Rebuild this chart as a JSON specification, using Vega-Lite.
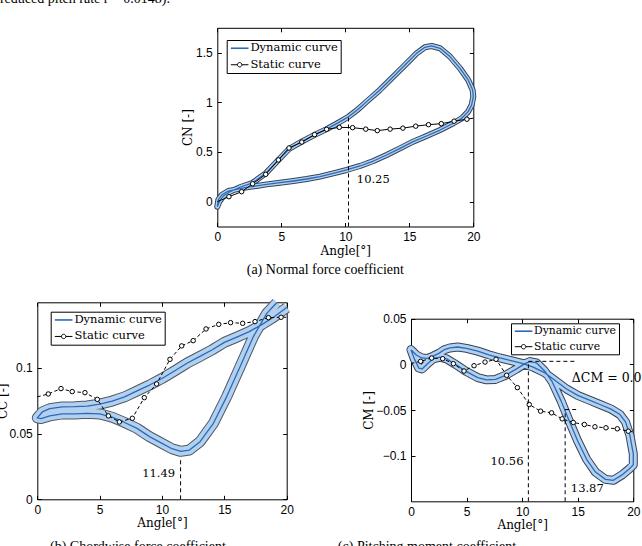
{
  "$schema": "https://vega.github.io/schema/vega-lite/v6.json",
  "width": 642,
  "height": 546,
  "autosize": {"type": "none"},
  "padding": 0,
  "background": "white",
  "config": {
    "view": {"stroke": null},
    "axis": {"grid": false, "domainColor": "black", "domainWidth": 1, "tickColor": "black", "tickWidth": 1, "tickSize": -4, "labelPadding": 9, "labelColor": "black", "labelFont": "Liberation Sans", "labelFontSize": 12, "labelFlush": false, "labelOverlap": false, "titleColor": "black", "titleFont": "DejaVu Serif", "titleFontSize": 12, "titleFontWeight": "normal"},
    "legend": {"labelFont": "DejaVu Serif", "labelFontSize": 11.5, "labelColor": "black", "symbolType": "stroke", "symbolSize": 121, "symbolStrokeWidth": 1.5, "symbolOffset": 4.7, "labelOffset": 5, "padding": 2.5, "rowPadding": 3.5, "strokeColor": "black", "fillColor": "white", "symbolDash": []},
    "text": {"color": "black"},
    "rule": {"color": "black"}
  },
  "datasets": {
    "dynA": [
      {"angle":0,"value":-0.05},{"angle":0.16,"value":0.0},{"angle":0.47,"value":0.057},{"angle":0.99,"value":0.10},{"angle":1.77,"value":0.145},{"angle":2.76,"value":0.19},{"angle":3.78,"value":0.285},{"angle":4.77,"value":0.42},{"angle":5.6,"value":0.53},{"angle":6.6,"value":0.605},{"angle":7.6,"value":0.672},{"angle":8.54,"value":0.73},{"angle":9.53,"value":0.80},{"angle":10.25,"value":0.855},{"angle":11.0,"value":0.93},{"angle":11.67,"value":1.007},{"angle":12.7,"value":1.124},{"angle":13.75,"value":1.258},{"angle":14.8,"value":1.393},{"angle":15.57,"value":1.493},{"angle":16.22,"value":1.554},{"angle":16.74,"value":1.567},{"angle":17.4,"value":1.544},{"angle":18.18,"value":1.46},{"angle":18.96,"value":1.342},{"angle":19.6,"value":1.225},{"angle":19.95,"value":1.124},{"angle":20,"value":1.057},{"angle":19.87,"value":0.973},{"angle":19.6,"value":0.906},{"angle":19.1,"value":0.839},{"angle":18.44,"value":0.789},{"angle":17.4,"value":0.721},{"angle":16.35,"value":0.661},{"angle":15.3,"value":0.604},{"angle":14.27,"value":0.537},{"angle":13.23,"value":0.47},{"angle":12.19,"value":0.409},{"angle":11.15,"value":0.359},{"angle":10.1,"value":0.319},{"angle":9.06,"value":0.285},{"angle":8.02,"value":0.252},{"angle":6.98,"value":0.228},{"angle":5.94,"value":0.208},{"angle":4.9,"value":0.191},{"angle":3.85,"value":0.174},{"angle":3.07,"value":0.158},{"angle":2.29,"value":0.144},{"angle":1.51,"value":0.124},{"angle":0.86,"value":0.107},{"angle":0.34,"value":0.067},{"angle":0.08,"value":0.017},{"angle":0,"value":-0.05}
    ],
    "statA": [
      {"angle":0,"value":0},{"angle":0.91,"value":0.05},{"angle":1.9,"value":0.10},{"angle":2.76,"value":0.18},{"angle":3.78,"value":0.275},{"angle":4.77,"value":0.42},{"angle":5.6,"value":0.54},{"angle":6.6,"value":0.60},{"angle":7.6,"value":0.675},{"angle":8.54,"value":0.728},{"angle":9.53,"value":0.748},{"angle":10.57,"value":0.745},{"angle":11.6,"value":0.73},{"angle":12.5,"value":0.715},{"angle":13.5,"value":0.73},{"angle":14.5,"value":0.74},{"angle":15.5,"value":0.76},{"angle":16.5,"value":0.775},{"angle":17.5,"value":0.785},{"angle":18.5,"value":0.81},{"angle":19.5,"value":0.83},{"angle":20,"value":0.84}
    ],
    "dynB": [
      {"angle":20,"value":0.146},{"angle":19,"value":0.139},{"angle":18,"value":0.133},{"angle":17,"value":0.1277},{"angle":16,"value":0.1235},{"angle":15,"value":0.1195},{"angle":14,"value":0.1137},{"angle":13,"value":0.1086},{"angle":12,"value":0.1036},{"angle":11,"value":0.0977},{"angle":10,"value":0.092},{"angle":9,"value":0.087},{"angle":8,"value":0.0825},{"angle":7,"value":0.078},{"angle":6,"value":0.0748},{"angle":5,"value":0.0725},{"angle":4,"value":0.071},{"angle":3,"value":0.0705},{"angle":2,"value":0.0703},{"angle":1,"value":0.069},{"angle":0.4,"value":0.0665},{"angle":0,"value":0.062},{"angle":0.3,"value":0.0615},{"angle":1,"value":0.0635},{"angle":2,"value":0.065},{"angle":3,"value":0.065},{"angle":4,"value":0.0655},{"angle":5,"value":0.065},{"angle":6,"value":0.0625},{"angle":7,"value":0.0585},{"angle":8,"value":0.054},{"angle":9,"value":0.0477},{"angle":10,"value":0.0426},{"angle":10.8,"value":0.0385},{"angle":11.5,"value":0.0365},{"angle":12.2,"value":0.0375},{"angle":13.05,"value":0.0439},{"angle":14.12,"value":0.0579},{"angle":15.19,"value":0.0782},{"angle":16.26,"value":0.101},{"angle":17.33,"value":0.1239},{"angle":18.4,"value":0.1416},{"angle":19.2,"value":0.1497}
    ],
    "statB": [
      {"angle":0,"value":0.078},{"angle":0.88,"value":0.0802},{"angle":1.9,"value":0.0843},{"angle":2.8,"value":0.082},{"angle":3.82,"value":0.0812},{"angle":4.81,"value":0.0761},{"angle":5.7,"value":0.0635},{"angle":6.58,"value":0.0589},{"angle":7.62,"value":0.0617},{"angle":8.58,"value":0.0774},{"angle":9.57,"value":0.0878},{"angle":10.64,"value":0.1066},{"angle":11.58,"value":0.1168},{"angle":12.5,"value":0.1208},{"angle":13.53,"value":0.1297},{"angle":14.55,"value":0.1332},{"angle":15.5,"value":0.1345},{"angle":16.47,"value":0.134},{"angle":17.46,"value":0.1353},{"angle":18.53,"value":0.1383},{"angle":19.55,"value":0.1386},{"angle":20,"value":0.1386}
    ],
    "dynC": [
      {"angle":0,"value":0.016},{"angle":0.3,"value":0.006},{"angle":0.7,"value":-0.004},{"angle":1.0,"value":-0.005},{"angle":1.5,"value":0.001},{"angle":2.0,"value":0.006},{"angle":2.6,"value":0.008},{"angle":3.2,"value":0.006},{"angle":4,"value":0.0},{"angle":5,"value":-0.008},{"angle":6,"value":-0.0145},{"angle":6.8,"value":-0.017},{"angle":7.6,"value":-0.0165},{"angle":8.5,"value":-0.012},{"angle":9.5,"value":-0.005},{"angle":10.2,"value":0.0005},{"angle":10.7,"value":0.003},{"angle":11.3,"value":0.0015},{"angle":12,"value":-0.007},{"angle":12.7,"value":-0.019},{"angle":13.5,"value":-0.04},{"angle":14.2,"value":-0.061},{"angle":15,"value":-0.084},{"angle":15.8,"value":-0.104},{"angle":16.6,"value":-0.118},{"angle":17.5,"value":-0.126},{"angle":18.2,"value":-0.127},{"angle":19,"value":-0.121},{"angle":19.6,"value":-0.115},{"angle":20,"value":-0.11},
      {"angle":20,"value":-0.098},{"angle":19.7,"value":-0.078},{"angle":19.3,"value":-0.063},{"angle":18.8,"value":-0.055},{"angle":18,"value":-0.049},{"angle":17,"value":-0.044},{"angle":16,"value":-0.039},{"angle":15,"value":-0.034},{"angle":14,"value":-0.027},{"angle":13,"value":-0.018},{"angle":12,"value":-0.009},{"angle":11,"value":-0.003},{"angle":10,"value":0.001},{"angle":9,"value":0.004},{"angle":8,"value":0.007},{"angle":7,"value":0.0105},{"angle":6,"value":0.0145},{"angle":5,"value":0.0175},{"angle":4.2,"value":0.019},{"angle":3.5,"value":0.018},{"angle":3,"value":0.016},{"angle":2.5,"value":0.012},{"angle":2,"value":0.009},{"angle":1.5,"value":0.0065},{"angle":1,"value":0.007},{"angle":0.5,"value":0.010},{"angle":0,"value":0.016}
    ],
    "statC": [
      {"angle":0,"value":0.001},{"angle":0.87,"value":0.0033},{"angle":1.86,"value":0.0069},{"angle":2.85,"value":0.0062},{"angle":3.81,"value":0.0007},{"angle":4.77,"value":-0.0073},{"angle":5.67,"value":-0.0015},{"angle":6.66,"value":0.0025},{"angle":7.65,"value":0.0055},{"angle":8.6,"value":-0.012},{"angle":9.57,"value":-0.0255},{"angle":10.64,"value":-0.044},{"angle":11.66,"value":-0.0513},{"angle":12.65,"value":-0.0531},{"angle":13.6,"value":-0.0597},{"angle":14.6,"value":-0.0637},{"angle":15.6,"value":-0.0659},{"angle":16.55,"value":-0.0684},{"angle":17.54,"value":-0.0695},{"angle":18.56,"value":-0.0706},{"angle":19.55,"value":-0.0732},{"angle":20,"value":-0.074}
    ]
  },
  "layer": [
    {
      "layer": [
        {"data": {"name": "dynA"}, "mark": {"type": "line", "stroke": "#34435a", "strokeWidth": 6, "strokeJoin": "round", "strokeCap": "round"},
         "encoding": {
           "x": {"field": "angle", "type": "quantitative", "scale": {"domain": [0, 20], "range": [217.3, 473.3], "nice": false, "zero": false},
                 "axis": {"orient": "bottom", "offset": -319.5, "values": [0, 5, 10, 15, 20], "title": "Angle[°]", "titleY": 24, "titleBaseline": "middle"}},
           "y": {"field": "value", "type": "quantitative", "scale": {"domain": [-0.25, 1.75], "range": [226.5, 27.8], "nice": false, "zero": false},
                 "axis": {"orient": "left", "offset": -217.3, "values": [0, 0.5, 1, 1.5], "format": "~g", "title": "CN [-]", "titleX": -30.3, "titleBaseline": "middle"}},
           "order": {"value": null}}},
        {"data": {"name": "dynA"}, "mark": {"type": "line", "stroke": "#b3d1ef", "strokeWidth": 4, "strokeJoin": "round", "strokeCap": "round"},
         "encoding": {"x": {"field": "angle", "type": "quantitative", "axis": null}, "y": {"field": "value", "type": "quantitative", "axis": null}, "order": {"value": null}}},
        {"data": {"name": "dynA"}, "mark": {"type": "line", "strokeWidth": 1.3, "strokeJoin": "round"},
         "encoding": {"x": {"field": "angle", "type": "quantitative", "axis": null}, "y": {"field": "value", "type": "quantitative", "axis": null}, "order": {"value": null},
           "color": {"datum": "Dynamic curve", "type": "nominal", "scale": {"domain": ["Dynamic curve", "Static curve"], "range": ["#2a6ab8", "#000000"]},
             "legend": {"orient": "none", "legendX": 226.7, "legendY": 40, "title": null,
               "encode": {"symbols": {"update": {"shape": {"signal": "datum.value === 'Static curve' ? 'M-1.6,0H-0.4M0.4,0H1.6M0.4,0A0.4,0.4,0,1,1,-0.4,0A0.4,0.4,0,1,1,0.4,0' : 'M-1.6,0H1.6'"}, "fill": {"value": "white"}, "strokeWidth": {"signal": "datum.value === 'Static curve' ? 1 : 1.6"}}}}}}}},
        {"data": {"name": "statA"}, "mark": {"type": "line", "strokeWidth": 1},
         "encoding": {"x": {"field": "angle", "type": "quantitative", "axis": null}, "y": {"field": "value", "type": "quantitative", "axis": null}, "color": {"datum": "Static curve", "type": "nominal"}}},
        {"data": {"name": "statA"}, "transform": [{"filter": "datum.angle > 0.3 && datum.angle < 19.9"}],
         "mark": {"type": "point", "shape": "circle", "filled": true, "fill": "white", "stroke": "black", "strokeWidth": 1, "size": 20, "opacity": 1},
         "encoding": {"x": {"field": "angle", "type": "quantitative", "axis": null}, "y": {"field": "value", "type": "quantitative", "axis": null}}},
        {"data": {"values": [{}]}, "mark": {"type": "rule", "strokeDash": [4, 3], "strokeWidth": 1},
         "encoding": {
           "x": {"datum": 10.25, "type": "quantitative", "axis": {"orient": "top", "offset": -27.8, "values": [0, 5, 10, 15, 20], "labels": false, "title": null}},
           "y": {"datum": -0.25, "type": "quantitative", "axis": {"orient": "right", "offset": -168.7, "values": [0, 0.5, 1, 1.5], "labels": false, "title": null}},
           "y2": {"datum": 0.855}}},
        {"data": {"values": [{}]}, "mark": {"type": "text", "align": "left", "baseline": "middle", "font": "DejaVu Serif", "fontSize": 11.5},
         "encoding": {"x": {"datum": 10.9, "type": "quantitative", "axis": null}, "y": {"datum": 0.218, "type": "quantitative", "axis": null}, "text": {"value": "10.25"}}},
        {"data": {"values": [{}]}, "mark": {"type": "text", "align": "left", "baseline": "middle", "font": "Liberation Serif", "fontSize": 14},
         "encoding": {"x": {"datum": 2.3, "type": "quantitative", "axis": null}, "y": {"datum": -0.687, "type": "quantitative", "axis": null}, "text": {"value": "(a) Normal force coefficient"}}},
        {"data": {"values": [{}]}, "mark": {"type": "text", "align": "left", "baseline": "alphabetic", "font": "Liberation Serif", "fontSize": 14},
         "encoding": {"x": {"datum": -16.98, "type": "quantitative", "axis": null}, "y": {"datum": 1.995, "type": "quantitative", "axis": null}, "text": {"value": "reduced pitch rate r = 0.0148)."}}}
      ],
      "resolve": {"axis": {"x": "independent", "y": "independent"}}
    },
    {
      "layer": [
        {"data": {"name": "dynB"}, "mark": {"type": "line", "stroke": "#4a5868", "strokeWidth": 11, "strokeJoin": "round", "strokeCap": "butt"},
         "encoding": {
           "x": {"field": "angle", "type": "quantitative", "scale": {"domain": [0, 20], "range": [37.3, 286.7], "nice": false, "zero": false},
                 "axis": {"orient": "bottom", "offset": -46.7, "values": [0, 5, 10, 15, 20], "title": "Angle[°]", "titleY": 23.6, "titleBaseline": "middle"}},
           "y": {"field": "value", "type": "quantitative", "scale": {"domain": [0, 0.15], "range": [499.3, 302.3], "nice": false, "zero": false},
                 "axis": {"orient": "left", "offset": -37.3, "values": [0, 0.05, 0.1], "format": "~g", "title": "CC [-]", "titleX": -35, "titleBaseline": "middle"}},
           "order": {"value": null}}},
        {"data": {"name": "dynB"}, "mark": {"type": "line", "stroke": "#b3d1ef", "strokeWidth": 9, "strokeJoin": "round", "strokeCap": "butt"},
         "encoding": {"x": {"field": "angle", "type": "quantitative", "axis": null}, "y": {"field": "value", "type": "quantitative", "axis": null}, "order": {"value": null}}},
        {"data": {"name": "dynB"}, "mark": {"type": "line", "strokeWidth": 1.3, "strokeJoin": "round"},
         "encoding": {"x": {"field": "angle", "type": "quantitative", "axis": null}, "y": {"field": "value", "type": "quantitative", "axis": null}, "order": {"value": null},
           "color": {"datum": "Dynamic curve", "type": "nominal", "scale": {"domain": ["Dynamic curve", "Static curve"], "range": ["#2a6ab8", "#000000"]},
             "legend": {"orient": "none", "legendX": 50.7, "legendY": 311.7, "title": null,
               "encode": {"symbols": {"update": {"shape": {"signal": "datum.value === 'Static curve' ? 'M-1.6,0H-0.4M0.4,0H1.6M0.4,0A0.4,0.4,0,1,1,-0.4,0A0.4,0.4,0,1,1,0.4,0' : 'M-1.6,0H1.6'"}, "fill": {"value": "white"}, "strokeWidth": {"signal": "datum.value === 'Static curve' ? 1 : 1.6"}}}}}}}},
        {"data": {"name": "statB"}, "mark": {"type": "line", "strokeWidth": 1, "strokeDash": [3.5, 2.5]},
         "encoding": {"x": {"field": "angle", "type": "quantitative", "axis": null}, "y": {"field": "value", "type": "quantitative", "axis": null}, "color": {"datum": "Static curve", "type": "nominal"}}},
        {"data": {"name": "statB"}, "transform": [{"filter": "datum.angle > 0.3 && datum.angle < 19.9"}],
         "mark": {"type": "point", "shape": "circle", "filled": true, "fill": "white", "stroke": "black", "strokeWidth": 1, "size": 20, "opacity": 1},
         "encoding": {"x": {"field": "angle", "type": "quantitative", "axis": null}, "y": {"field": "value", "type": "quantitative", "axis": null}}},
        {"data": {"values": [{}]}, "mark": {"type": "rule", "strokeDash": [4, 3], "strokeWidth": 1},
         "encoding": {
           "x": {"datum": 11.49, "type": "quantitative", "axis": {"orient": "top", "offset": -302.3, "values": [0, 5, 10, 15, 20], "labels": false, "title": null}},
           "y": {"datum": 0, "type": "quantitative", "axis": {"orient": "right", "offset": -355.3, "values": [0, 0.05, 0.1], "labels": false, "title": null}},
           "y2": {"datum": 0.031}}},
        {"data": {"values": [{}]}, "mark": {"type": "text", "align": "right", "baseline": "middle", "font": "DejaVu Serif", "fontSize": 11.5},
         "encoding": {"x": {"datum": 11.05, "type": "quantitative", "axis": null}, "y": {"datum": 0.0193, "type": "quantitative", "axis": null}, "text": {"value": "11.49"}}},
        {"data": {"values": [{}]}, "mark": {"type": "text", "align": "left", "baseline": "middle", "font": "Liberation Serif", "fontSize": 14},
         "encoding": {"x": {"datum": 1.02, "type": "quantitative", "axis": null}, "y": {"datum": -0.0363, "type": "quantitative", "axis": null}, "text": {"value": "(b) Chordwise force coefficient"}}}
      ],
      "resolve": {"axis": {"x": "independent", "y": "independent"}}
    },
    {
      "layer": [
        {"data": {"name": "dynC"}, "mark": {"type": "line", "stroke": "#34435a", "strokeWidth": 9, "strokeJoin": "round", "strokeCap": "round"},
         "encoding": {
           "x": {"field": "angle", "type": "quantitative", "scale": {"domain": [0, 20], "range": [411, 633.3], "nice": false, "zero": false},
                 "axis": {"orient": "bottom", "offset": -44.7, "values": [0, 5, 10, 15, 20], "title": "Angle[°]", "titleY": 23.2, "titleBaseline": "middle"}},
           "y": {"field": "value", "type": "quantitative", "scale": {"domain": [-0.15, 0.05], "range": [501.3, 318.7], "nice": false, "zero": false},
                 "axis": {"orient": "left", "offset": -411, "values": [-0.1, -0.05, 0, 0.05], "format": "~g", "title": "CM [-]", "titleX": -43, "titleBaseline": "middle"}},
           "order": {"value": null}}},
        {"data": {"name": "dynC"}, "mark": {"type": "line", "stroke": "#b3d1ef", "strokeWidth": 7, "strokeJoin": "round", "strokeCap": "round"},
         "encoding": {"x": {"field": "angle", "type": "quantitative", "axis": null}, "y": {"field": "value", "type": "quantitative", "axis": null}, "order": {"value": null}}},
        {"data": {"name": "dynC"}, "mark": {"type": "line", "strokeWidth": 1.3, "strokeJoin": "round"},
         "encoding": {"x": {"field": "angle", "type": "quantitative", "axis": null}, "y": {"field": "value", "type": "quantitative", "axis": null}, "order": {"value": null},
           "color": {"datum": "Dynamic curve", "type": "nominal", "scale": {"domain": ["Dynamic curve", "Static curve"], "range": ["#2a6ab8", "#000000"]},
             "legend": {"orient": "none", "legendX": 511, "legendY": 323.3, "title": null, "labelFontSize": 10.8,
               "encode": {"symbols": {"update": {"shape": {"signal": "datum.value === 'Static curve' ? 'M-1.6,0H-0.4M0.4,0H1.6M0.4,0A0.4,0.4,0,1,1,-0.4,0A0.4,0.4,0,1,1,0.4,0' : 'M-1.6,0H1.6'"}, "fill": {"value": "white"}, "strokeWidth": {"signal": "datum.value === 'Static curve' ? 1 : 1.6"}}}}}}}},
        {"data": {"name": "statC"}, "mark": {"type": "line", "strokeWidth": 1, "strokeDash": [3.5, 2.5]},
         "encoding": {"x": {"field": "angle", "type": "quantitative", "axis": null}, "y": {"field": "value", "type": "quantitative", "axis": null}, "color": {"datum": "Static curve", "type": "nominal"}}},
        {"data": {"name": "statC"}, "transform": [{"filter": "datum.angle > 0.3 && datum.angle < 19.9"}],
         "mark": {"type": "point", "shape": "circle", "filled": true, "fill": "white", "stroke": "black", "strokeWidth": 1, "size": 20, "opacity": 1},
         "encoding": {"x": {"field": "angle", "type": "quantitative", "axis": null}, "y": {"field": "value", "type": "quantitative", "axis": null}}},
        {"data": {"values": [{}]}, "mark": {"type": "rule", "strokeDash": [4, 3], "strokeWidth": 1},
         "encoding": {
           "x": {"datum": 10.56, "type": "quantitative", "axis": {"orient": "top", "offset": -318.7, "values": [0, 5, 10, 15, 20], "labels": false, "title": null}},
           "y": {"datum": -0.15, "type": "quantitative", "axis": {"orient": "right", "offset": -8.7, "values": [-0.1, -0.05, 0, 0.05], "labels": false, "title": null}},
           "y2": {"datum": 0.0033}}},
        {"data": {"values": [{}]}, "mark": {"type": "rule", "strokeDash": [4, 3], "strokeWidth": 1},
         "encoding": {"x": {"datum": 13.87, "type": "quantitative", "axis": null}, "y": {"datum": -0.15, "type": "quantitative", "axis": null}, "y2": {"datum": -0.0495}}},
        {"data": {"values": [{}]}, "mark": {"type": "rule", "strokeDash": [4, 3], "strokeWidth": 1},
         "encoding": {"x": {"datum": 10.56, "type": "quantitative", "axis": null}, "x2": {"datum": 14.9}, "y": {"datum": 0.0033, "type": "quantitative", "axis": null}}},
        {"data": {"values": [{}]}, "mark": {"type": "rule", "strokeDash": [4, 3], "strokeWidth": 1},
         "encoding": {"x": {"datum": 13.87, "type": "quantitative", "axis": null}, "x2": {"datum": 14.9}, "y": {"datum": -0.0495, "type": "quantitative", "axis": null}}},
        {"data": {"values": [{}]}, "mark": {"type": "text", "align": "right", "baseline": "middle", "font": "DejaVu Serif", "fontSize": 11.5},
         "encoding": {"x": {"datum": 10.12, "type": "quantitative", "axis": null}, "y": {"datum": -0.1067, "type": "quantitative", "axis": null}, "text": {"value": "10.56"}}},
        {"data": {"values": [{}]}, "mark": {"type": "text", "align": "left", "baseline": "middle", "font": "DejaVu Serif", "fontSize": 11.5},
         "encoding": {"x": {"datum": 14.38, "type": "quantitative", "axis": null}, "y": {"datum": -0.1369, "type": "quantitative", "axis": null}, "text": {"value": "13.87"}}},
        {"data": {"values": [{}]}, "mark": {"type": "text", "align": "left", "baseline": "middle", "font": "DejaVu Serif", "fontSize": 12.5},
         "encoding": {"x": {"datum": 14.47, "type": "quantitative", "axis": null}, "y": {"datum": -0.0146, "type": "quantitative", "axis": null}, "text": {"value": "ΔCM = 0.05"}}},
        {"data": {"values": [{}]}, "mark": {"type": "text", "align": "left", "baseline": "middle", "font": "Liberation Serif", "fontSize": 14},
         "encoding": {"x": {"datum": -6.58, "type": "quantitative", "axis": null}, "y": {"datum": -0.1998, "type": "quantitative", "axis": null}, "text": {"value": "(c) Pitching moment coefficient"}}}
      ],
      "resolve": {"axis": {"x": "independent", "y": "independent"}}
    }
  ],
  "resolve": {"scale": {"x": "independent", "y": "independent", "color": "independent"}}
}
